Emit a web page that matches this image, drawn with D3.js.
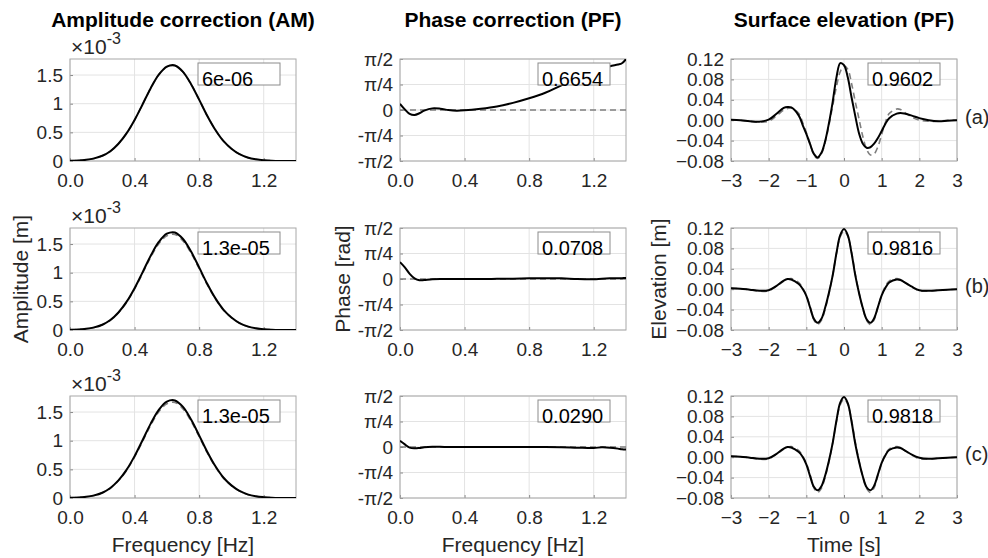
<!DOCTYPE html>
<html>
<head>
<meta charset="utf-8">
<script src="https://cdn.jsdelivr.net/npm/d3@7"></script>
<style>
  body { margin: 0; background: #fff; }
  svg { font-family: "Liberation Sans", Arial, Helvetica, sans-serif; }
</style>
</head>
<body>
<svg id="chart" width="988" height="558"></svg>
<script>
// ---- data ----
const ampFreq = [0, 0.05, 0.1, 0.15, 0.2, 0.25, 0.3, 0.35, 0.4, 0.45, 0.5, 0.55, 0.6, 0.65, 0.7,
                 0.75, 0.8, 0.85, 0.9, 0.95, 1.0, 1.05, 1.1, 1.15, 1.2, 1.25, 1.3, 1.35, 1.4];
// amplitude in units of 1e-3 m
const ampRef = [0.003, 0.008, 0.020, 0.045, 0.090, 0.170, 0.300, 0.480, 0.715, 0.990, 1.270, 1.505, 1.645, 1.668, 1.555,
                1.340, 1.070, 0.790, 0.545, 0.350, 0.215, 0.120, 0.062, 0.030, 0.014, 0.006, 0.002, 0.001, 0.000];
const ampA = [0.003, 0.008, 0.021, 0.046, 0.091, 0.171, 0.301, 0.481, 0.716, 0.991, 1.271, 1.506, 1.646, 1.668, 1.556,
              1.341, 1.071, 0.790, 0.545, 0.350, 0.215, 0.120, 0.062, 0.030, 0.014, 0.006, 0.002, 0.001, 0.000];
const ampB = [0.003, 0.008, 0.021, 0.046, 0.092, 0.174, 0.306, 0.490, 0.730, 1.010, 1.296, 1.536, 1.680, 1.702, 1.588,
              1.368, 1.092, 0.806, 0.556, 0.357, 0.219, 0.122, 0.063, 0.031, 0.014, 0.006, 0.002, 0.001, 0.000];
const ampC = [0.003, 0.008, 0.021, 0.046, 0.092, 0.175, 0.307, 0.491, 0.731, 1.012, 1.298, 1.538, 1.682, 1.703, 1.589,
              1.369, 1.093, 0.807, 0.557, 0.358, 0.220, 0.123, 0.064, 0.031, 0.015, 0.006, 0.002, 0.001, 0.000];

const phaseFreq = [0, 0.03, 0.06, 0.09, 0.12, 0.15, 0.2, 0.25, 0.3, 0.35, 0.4, 0.5,
                   0.6, 0.7, 0.8, 0.9, 1.0, 1.1, 1.2, 1.25, 1.3, 1.35, 1.375, 1.4];
const phaseA = [0.19, 0.02, -0.12, -0.155, -0.10, -0.02, 0.05, 0.04, 0.00, -0.02, -0.01, 0.04,
                0.11, 0.22, 0.36, 0.53, 0.76, 0.95, 1.14, 1.25, 1.35, 1.40, 1.44, 1.57];
const phaseB = [0.52, 0.36, 0.16, 0.02, -0.04, -0.03, -0.01, 0.00, 0.00, 0.00, 0.00, 0.00,
                0.005, 0.01, 0.02, 0.025, 0.02, 0.00, -0.005, 0.01, 0.02, 0.02, 0.025, 0.03];
const phaseC = [0.19, 0.08, -0.02, -0.04, -0.03, -0.01, 0.005, 0.005, 0.00, 0.00, 0.00, 0.00,
                0.00, 0.00, 0.00, 0.00, -0.005, -0.02, -0.03, -0.01, -0.02, -0.05, -0.07, -0.08];
const phaseRefFreq = [0, 1.4];
const phaseRef = [0, 0];

const timeS = [-3, -2.75, -2.5, -2.25, -2,
               -1.8, -1.6, -1.5, -1.4, -1.2, -1.1,
               -1, -0.9, -0.8, -0.7, -0.6, -0.5, -0.4, -0.3, -0.2, -0.1, 0,
               0.1, 0.2, 0.3, 0.4, 0.5, 0.6, 0.7, 0.8, 0.9, 1,
               1.1, 1.2, 1.4, 1.5, 1.6, 1.8, 2,
               2.25, 2.5, 2.75, 3];
const elevA = [0.001, 0.000, -0.002, -0.003, 0.001,
               0.012, 0.024, 0.026, 0.025, 0.009, -0.009,
               -0.027, -0.047, -0.066, -0.073, -0.064, -0.041, -0.006, 0.036, 0.084, 0.112, 0.108,
               0.084, 0.045, 0.008, -0.026, -0.046, -0.054, -0.053, -0.046, -0.035, -0.021,
               -0.007, 0.004, 0.013, 0.014, 0.013, 0.009, 0.004,
               0.000, -0.002, -0.001, 0.000];
const elevRefA = [0.001, 0.000, -0.002, -0.004, -0.002,
                  0.008, 0.020, 0.023, 0.024, 0.013, -0.004,
                  -0.024, -0.046, -0.068, -0.075, -0.066, -0.044, -0.010, 0.028, 0.066, 0.095, 0.106,
                  0.100, 0.072, 0.036, 0.002, -0.032, -0.057, -0.068, -0.066, -0.052, -0.028,
                  -0.004, 0.013, 0.022, 0.021, 0.016, 0.006, 0.000,
                  -0.002, -0.002, 0.000, 0.000];
const elevB = [0.002, 0.001, -0.001, -0.003, -0.002,
               0.006, 0.017, 0.020, 0.019, 0.010, 0.001,
               -0.013, -0.036, -0.058, -0.066, -0.058, -0.036, -0.007, 0.027, 0.071, 0.106, 0.118,
               0.106, 0.071, 0.027, -0.008, -0.037, -0.059, -0.066, -0.057, -0.035, -0.012,
               0.003, 0.013, 0.019, 0.018, 0.014, 0.005, -0.002,
               -0.003, -0.002, -0.001, 0.000];
const elevC = [0.002, 0.001, -0.001, -0.003, -0.002,
               0.006, 0.017, 0.020, 0.019, 0.010, 0.001,
               -0.014, -0.037, -0.058, -0.065, -0.057, -0.036, -0.007, 0.028, 0.072, 0.107, 0.118,
               0.106, 0.070, 0.026, -0.009, -0.038, -0.059, -0.065, -0.056, -0.034, -0.011,
               0.004, 0.014, 0.019, 0.018, 0.014, 0.005, -0.001,
               -0.003, -0.002, -0.001, 0.000];
const elevRefBC = [0.002, 0.001, -0.001, -0.004, -0.003,
                   0.005, 0.016, 0.020, 0.021, 0.013, 0.003,
                   -0.012, -0.034, -0.060, -0.069, -0.061, -0.039, -0.009, 0.028, 0.070, 0.103, 0.114,
                   0.104, 0.073, 0.030, -0.007, -0.038, -0.061, -0.069, -0.060, -0.036, -0.012,
                   0.006, 0.016, 0.021, 0.019, 0.014, 0.004, -0.003,
                   -0.004, -0.002, -0.001, 0.000];

const titles = ['Amplitude correction (AM)', 'Phase correction (PF)', 'Surface elevation (PF)'];
const xLabels = ['Frequency [Hz]', 'Frequency [Hz]', 'Time [s]'];
const yLabels = ['Amplitude [m]', 'Phase [rad]', 'Elevation [m]'];
const rowTags = ['(a)', '(b)', '(c)'];
const ampBoxes = ['6e-06', '1.3e-05', '1.3e-05'];
const phaseBoxes = ['0.6654', '0.0708', '0.0290'];
const elevBoxes = ['0.9602', '0.9816', '0.9818'];

const freqTicks = [0, 0.4, 0.8, 1.2];
const ampTicks = [0, 0.5, 1, 1.5];
const phaseTicks = [-Math.PI / 2, -Math.PI / 4, 0, Math.PI / 4, Math.PI / 2];
const phaseTickLabels = ['-\u03c0/2', '-\u03c0/4', '0', '\u03c0/4', '\u03c0/2'];
const timeTicks = [-3, -2, -1, 0, 1, 2, 3];
const elevTicks = [-0.08, -0.04, 0, 0.04, 0.08, 0.12];

// ---- layout ----
const svg = d3.select('#chart');
const colLeft = [70, 400, 731];
const rowTop = [59, 228, 396];
const plotW = 226, plotH = 102;

const freqX = d3.scaleLinear().domain([0, 1.4]).range([0, plotW]);
const timeX = d3.scaleLinear().domain([-3, 3]).range([0, plotW]);
const ampY = d3.scaleLinear().domain([0, 1.78]).range([plotH, 0]);
const phaseY = d3.scaleLinear().domain([-Math.PI / 2, Math.PI / 2]).range([plotH, 0]);
const elevY = d3.scaleLinear().domain([-0.08, 0.12]).range([plotH, 0]);

const columns = [
  { x: freqX, y: ampY, xTicks: freqTicks, xFmt: d3.format('.1f'), yTicks: ampTicks,
    yFmt: d => String(d), boxX: 128, boxW: 82,
    rows: [[ampFreq, ampRef, ampA, ampBoxes[0]], [ampFreq, ampRef, ampB, ampBoxes[1]], [ampFreq, ampRef, ampC, ampBoxes[2]]] },
  { x: freqX, y: phaseY, xTicks: freqTicks, xFmt: d3.format('.1f'), yTicks: phaseTicks,
    yFmt: (d, i) => phaseTickLabels[i], boxX: 138, boxW: 72,
    rows: [[phaseFreq, phaseRef, phaseA, phaseBoxes[0]], [phaseFreq, phaseRef, phaseB, phaseBoxes[1]], [phaseFreq, phaseRef, phaseC, phaseBoxes[2]]] },
  { x: timeX, y: elevY, xTicks: timeTicks, xFmt: d3.format('d'), yTicks: elevTicks,
    yFmt: d3.format('.2f'), boxX: 137, boxW: 72,
    rows: [[timeS, elevRefA, elevA, elevBoxes[0]], [timeS, elevRefBC, elevB, elevBoxes[1]], [timeS, elevRefBC, elevC, elevBoxes[2]]] }
];

const defs = svg.append('defs');
defs.append('clipPath').attr('id', 'plotclip')
  .append('rect').attr('x', 0).attr('y', 0).attr('width', plotW).attr('height', plotH);

columns.forEach((cfg, c) => {
  cfg.rows.forEach(([xs, ref, res, boxText], r) => {
    const g = svg.append('g').attr('transform', `translate(${colLeft[c]},${rowTop[r]})`);

    // grid
    g.append('g').selectAll('line').data(cfg.xTicks).join('line')
      .attr('x1', d => cfg.x(d)).attr('x2', d => cfg.x(d))
      .attr('y1', 0).attr('y2', plotH)
      .attr('stroke', '#e3e3e3').attr('stroke-width', 1);
    g.append('g').selectAll('line').data(cfg.yTicks).join('line')
      .attr('x1', 0).attr('x2', plotW)
      .attr('y1', d => cfg.y(d)).attr('y2', d => cfg.y(d))
      .attr('stroke', '#e3e3e3').attr('stroke-width', 1);

    // axes
    const yAxis = g.append('g')
      .call(d3.axisLeft(cfg.y).tickValues(cfg.yTicks).tickFormat(cfg.yFmt).tickSize(-3).tickPadding(7));
    const xAxis = g.append('g').attr('transform', `translate(0,${plotH})`)
      .call(d3.axisBottom(cfg.x).tickValues(cfg.xTicks).tickFormat(cfg.xFmt).tickSize(-3).tickPadding(13));
    [xAxis, yAxis].forEach(a => {
      a.select('.domain').remove();
      a.selectAll('.tick line').attr('stroke', '#8a8a8a');
      a.selectAll('.tick text').attr('fill', '#262626').style('font-size', '19px')
        .style('font-family', '"Liberation Sans", Arial, sans-serif');
    });

    // box
    g.append('rect').attr('x', 0).attr('y', 0).attr('width', plotW).attr('height', plotH)
      .attr('fill', 'none').attr('stroke', '#a8a8a8').attr('stroke-width', 1);

    // lines: target dashed, result solid
    const refX = ref.length === 2 ? phaseRefFreq : xs;
    const line = d3.line().curve(d3.curveCatmullRom.alpha(0.5));
    const lines = g.append('g').attr('clip-path', 'url(#plotclip)');
    lines.append('path')
      .attr('d', line(ref.map((v, i) => [cfg.x(refX[i]), cfg.y(v)])))
      .attr('fill', 'none').attr('stroke', '#7f7f7f').attr('stroke-width', 1.6)
      .attr('stroke-dasharray', '6,4');
    lines.append('path')
      .attr('d', line(res.map((v, i) => [cfg.x(xs[i]), cfg.y(v)])))
      .attr('fill', 'none').attr('stroke', '#000').attr('stroke-width', 2);

    // text box
    g.append('rect').attr('x', cfg.boxX).attr('y', 4).attr('width', cfg.boxW).attr('height', 22)
      .attr('fill', '#fff').attr('stroke', '#8c8c8c').attr('stroke-width', 1);
    g.append('text').attr('x', cfg.boxX + 4).attr('y', 26.5)
      .attr('fill', '#000').style('font-size', '20px').text(boxText);

    // exponent label on amplitude plots
    if (c === 0) {
      const t = g.append('text').attr('x', 1).attr('y', -5.5).attr('fill', '#262626').style('font-size', '21px');
      t.append('tspan').text('\u00d710');
      t.append('tspan').attr('dy', -10).style('font-size', '16px').text('-3');
    }

    // row tags
    if (c === 2) {
      g.append('text').attr('x', 965 - colLeft[c]).attr('y', cfg.y(0) + 4)
        .attr('fill', '#262626').style('font-size', '20px').text(rowTags[r]);
    }

    if (r === 0) {
      svg.append('text').attr('x', colLeft[c] + plotW / 2).attr('y', 27)
        .attr('text-anchor', 'middle').attr('font-weight', 'bold')
        .style('font-size', '21px').attr('fill', '#000').text(titles[c]);
    }
    if (r === 2) {
      svg.append('text').attr('x', colLeft[c] + plotW / 2).attr('y', rowTop[r] + plotH + 54)
        .attr('text-anchor', 'middle').style('font-size', '21px').attr('fill', '#262626')
        .text(xLabels[c]);
    }
    if (r === 1) {
      const lx = [28, 350, 666][c];
      svg.append('text').attr('transform', `translate(${lx},${rowTop[r] + plotH / 2}) rotate(-90)`)
        .attr('text-anchor', 'middle').style('font-size', '21px').attr('fill', '#262626')
        .text(yLabels[c]);
    }
  });
});
</script>
</body>
</html>
